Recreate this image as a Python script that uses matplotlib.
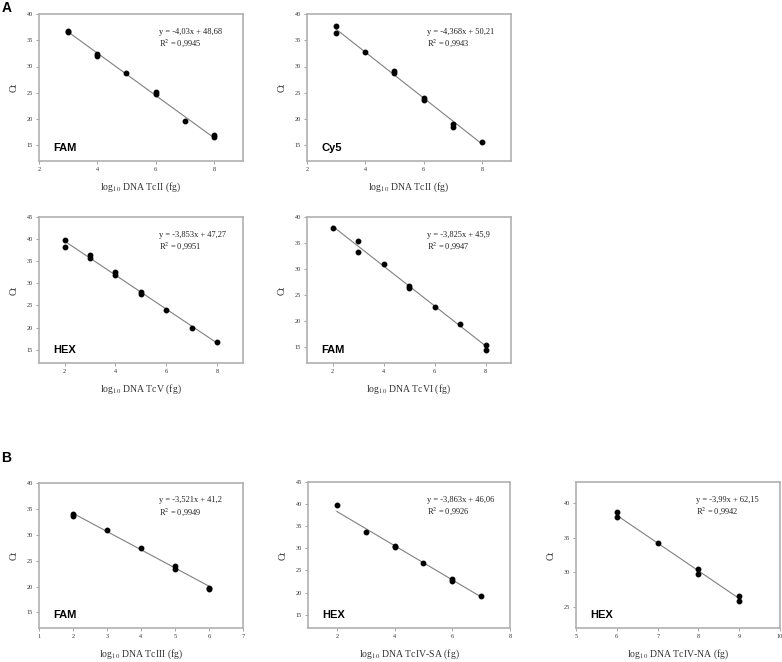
import numpy as np
import matplotlib
matplotlib.use("Agg")
import matplotlib.pyplot as plt

plt.rcParams['font.family'] = 'Liberation Serif'
plt.rcParams['mathtext.fontset'] = 'stix'

# log10 DNA (fg) and Ct
tcii_fam_x = [3, 3, 4, 4, 5, 6, 6, 7, 8, 8]
tcii_fam_ct = [36.8, 36.6, 32.4, 32.0, 28.8, 25.2, 24.8, 19.6, 17.0, 16.6]

tcii_cy5_x = [3, 3, 4, 5, 5, 6, 6, 7, 7, 8]
tcii_cy5_ct = [37.7, 36.3, 32.7, 29.2, 28.7, 24.0, 23.6, 19.1, 18.5, 15.7]

tcv_hex_x = [2, 2, 3, 3, 4, 4, 5, 5, 6, 7, 8]
tcv_hex_ct = [39.9, 38.3, 36.4, 35.8, 32.6, 31.9, 28.1, 27.5, 23.9, 20.0, 16.7]

tcvi_fam_x = [2, 3, 3, 4, 5, 5, 6, 7, 8, 8]
tcvi_fam_ct = [37.9, 35.4, 33.3, 31.0, 26.4, 26.7, 22.7, 19.4, 15.4, 14.5]

tciii_fam_x = [2, 2, 3, 4, 5, 5, 6, 6]
tciii_fam_ct = [34.0, 33.6, 30.9, 27.4, 23.9, 23.4, 19.8, 19.5]

tciv_sa_x = [2, 3, 4, 4, 5, 6, 6, 7]
tciv_sa_ct = [39.7, 33.8, 30.6, 30.2, 26.8, 23.1, 22.7, 19.2]

tciv_na_x = [6, 6, 7, 8, 8, 9, 9]
tciv_na_ct = [38.7, 37.9, 34.2, 30.5, 29.7, 26.6, 25.9]

# fitted lines (slope, intercept, R2) as printed on the panels
slopes = [-4.03, -4.368, -3.853, -3.825, -3.521, -3.863, -3.99]
intercepts = [48.68, 50.21, 47.27, 45.9, 41.2, 46.06, 62.15]
eq_labels = ["y = -4,03x + 48,68", "y = -4,368x + 50,21", "y = -3,853x + 47,27",
             "y = -3,825x + 45,9", "y = -3,521x + 41,2", "y = -3,863x + 46,06",
             "y = -3,99x + 62,15"]
r2_labels = ["0,9945", "0,9943", "0,9951", "0,9947", "0,9949", "0,9926", "0,9942"]
dyes = ["FAM", "Cy5", "HEX", "FAM", "FAM", "HEX", "HEX"]
targets = ["TcII", "TcII", "TcV", "TcVI", "TcIII", "TcIV-SA", "TcIV-NA"]


def draw(ax, x, ct, i, xlim, ylim, xticks, yticks):
    x = np.array(x)
    ax.plot(x, ct, 'o', color='black', markersize=3.2, zorder=3)
    xx = np.array([x.min(), x.max()])
    ax.plot(xx, slopes[i] * xx + intercepts[i], color='#808080', lw=0.8, zorder=2)
    ax.set_xlim(xlim)
    ax.set_ylim(ylim)
    ax.set_xticks(xticks)
    ax.set_yticks(yticks)
    for s in ax.spines.values():
        s.set_color('#b0b0b0')
        s.set_linewidth(1.2)
    ax.tick_params(labelsize=4.5, length=2, width=0.5, color='#808080',
                   labelcolor='#333333', pad=2.5)
    ax.set_xlabel("log$_{10}$ DNA " + targets[i] + " (fg)", fontsize=7, labelpad=6,
                  color='#333333')
    ax.set_ylabel("Ct", fontsize=7, labelpad=6, color='#333333')
    ax.text(0.59, 0.88, eq_labels[i], transform=ax.transAxes, fontsize=6,
            va='center', color='#222222')
    ax.text(0.59, 0.80, "R$^2$ = " + r2_labels[i], transform=ax.transAxes, fontsize=6,
            va='center', color='#222222')
    ax.text(0.07, 0.09, dyes[i], transform=ax.transAxes, fontsize=8,
            fontweight='bold', family='Liberation Sans', va='center')


fig = plt.figure(figsize=(7.82, 6.62), dpi=100)
W, H = 782, 662


def box(l, r, t, b):
    return fig.add_axes([l / W, 1 - b / H, (r - l) / W, (b - t) / H])


draw(box(39, 243, 14, 161), tcii_fam_x, tcii_fam_ct, 0, (2, 9), (12, 40),
     [2, 4, 6, 8], [15, 20, 25, 30, 35, 40])
draw(box(307, 511, 14, 161), tcii_cy5_x, tcii_cy5_ct, 1, (2, 9), (12, 40),
     [2, 4, 6, 8], [15, 20, 25, 30, 35, 40])
draw(box(39, 243, 217, 363), tcv_hex_x, tcv_hex_ct, 2, (1, 9), (12, 45),
     [2, 4, 6, 8], [15, 20, 25, 30, 35, 40, 45])
draw(box(307, 511, 217, 363), tcvi_fam_x, tcvi_fam_ct, 3, (1, 9), (12, 40),
     [2, 4, 6, 8], [15, 20, 25, 30, 35, 40])
draw(box(39, 243, 483, 628), tciii_fam_x, tciii_fam_ct, 4, (1, 7), (12, 40),
     [1, 2, 3, 4, 5, 6, 7], [15, 20, 25, 30, 35, 40])
draw(box(308, 510, 482, 628), tciv_sa_x, tciv_sa_ct, 5, (1, 8), (12, 45),
     [2, 4, 6, 8], [15, 20, 25, 30, 35, 40, 45])
draw(box(576, 780, 482, 628), tciv_na_x, tciv_na_ct, 6, (5, 10), (22, 43),
     [5, 6, 7, 8, 9, 10], [25, 30, 35, 40])

fig.text(0.002, 0.998, "A", fontsize=10, fontweight='bold', family='Liberation Sans',
         va='top', ha='left')
fig.text(0.002, 1 - 458 / H, "B", fontsize=10, fontweight='bold',
         family='Liberation Sans', va='center', ha='left')

fig.savefig("out.png", dpi=100)
